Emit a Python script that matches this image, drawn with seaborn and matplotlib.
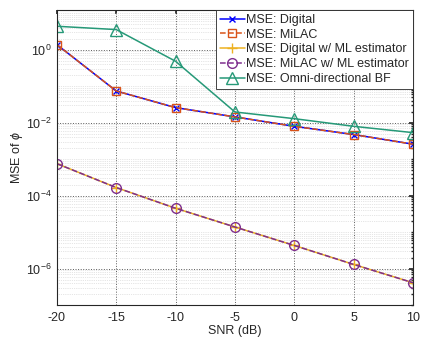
import numpy as np
import pandas as pd
import matplotlib
matplotlib.use("Agg")
import matplotlib.pyplot as plt
import seaborn as sns
from matplotlib.ticker import LogLocator, FixedLocator, NullFormatter

snr = [-20, -15, -10, -5, 0, 5, 10]
mse_digital = [1.37, 0.0734, 0.0257, 0.0143, 0.0079, 0.0047, 0.00256]
mse_milac = [1.37, 0.0734, 0.0257, 0.0143, 0.0079, 0.0047, 0.00256]
mse_digital_ml = [7.5e-4, 1.66e-4, 4.5e-5, 1.38e-5, 4.3e-6, 1.3e-6, 4.1e-7]
mse_milac_ml = [7.5e-4, 1.66e-4, 4.5e-5, 1.38e-5, 4.3e-6, 1.3e-6, 4.1e-7]
mse_omni = [4.35, 3.53, 0.478, 0.0195, 0.0128, 0.0079, 0.0053]

labels = ["MSE: Digital", "MSE: MiLAC", "MSE: Digital w/ ML estimator",
          "MSE: MiLAC w/ ML estimator", "MSE: Omni-directional BF"]
series = [mse_digital, mse_milac, mse_digital_ml, mse_milac_ml, mse_omni]

sns.set_theme(style="white")
plt.rcParams['font.family'] = ['Liberation Sans', 'DejaVu Sans']
plt.rcParams['mathtext.fontset'] = 'custom'
plt.rcParams['mathtext.rm'] = 'Liberation Sans'
plt.rcParams['mathtext.it'] = 'Liberation Sans:italic'

fig = plt.figure(figsize=(4.21, 3.39), dpi=100)
ax = fig.add_axes([0.135, 0.100, 0.846, 0.870])

styles = [
    dict(color=(0, 0, 1), ls='-', marker='x', ms=5),
    dict(color=(0.85, 0.325, 0.098), ls='--', marker='s', ms=6),
    dict(color=(0.929, 0.694, 0.125), ls='-', marker='+', ms=7),
    dict(color=(0.494, 0.184, 0.556), ls='--', marker='o', ms=7),
    dict(color=(0.15, 0.6, 0.47), ls='-', marker='^', ms=8),
]

for lab, vals, st in zip(labels, series, styles):
    df = pd.DataFrame({"SNR": snr, "MSE": vals})
    sns.lineplot(data=df, x="SNR", y="MSE", ax=ax, label=lab,
                 color=st['color'], linestyle=st['ls'], marker=st['marker'],
                 markersize=st['ms'], markerfacecolor='none',
                 markeredgecolor=st['color'], markeredgewidth=1.0, linewidth=1.1)

ax.set_yscale('log')
ax.set_xlim(-20, 10)
ax.set_ylim(1e-7, 12)
ax.set_xticks(snr)
ax.set_xticklabels([str(s) for s in snr])
ax.yaxis.set_major_locator(FixedLocator([1e-6, 1e-4, 1e-2, 1e0]))
ax.yaxis.set_minor_locator(LogLocator(base=10, subs=np.arange(1, 10), numticks=50))
ax.yaxis.set_minor_formatter(NullFormatter())
ax.set_yticklabels([r'$10^{-6}$', r'$10^{-4}$', r'$10^{-2}$', r'$10^{0}$'])

ax.grid(True, which='major', linestyle=':', color='0.35', linewidth=0.7)
ax.grid(True, which='minor', axis='y', linestyle=':', color='0.8', linewidth=0.5)

for sp in ax.spines.values():
    sp.set_color('0.15')
    sp.set_linewidth(0.8)
ax.tick_params(axis='both', which='both', direction='in', labelsize=9,
               colors='0.15', top=True, right=True, length=3)
ax.tick_params(axis='y', which='minor', length=1.5)
ax.tick_params(axis='x', pad=5)

ax.set_xlabel("SNR (dB)", fontsize=9, color='0.15', labelpad=1)
ax.set_ylabel(r"MSE of $\phi$", fontsize=9, color='0.15', labelpad=1)

leg = ax.legend(loc='upper right', fontsize=9, frameon=True, fancybox=False,
                edgecolor='0.15', framealpha=1, borderpad=0.3, labelspacing=0.22,
                handlelength=2.0, handletextpad=0.15, borderaxespad=0.0)
leg.get_frame().set_linewidth(0.6)

fig.savefig("out.png", dpi=100)
